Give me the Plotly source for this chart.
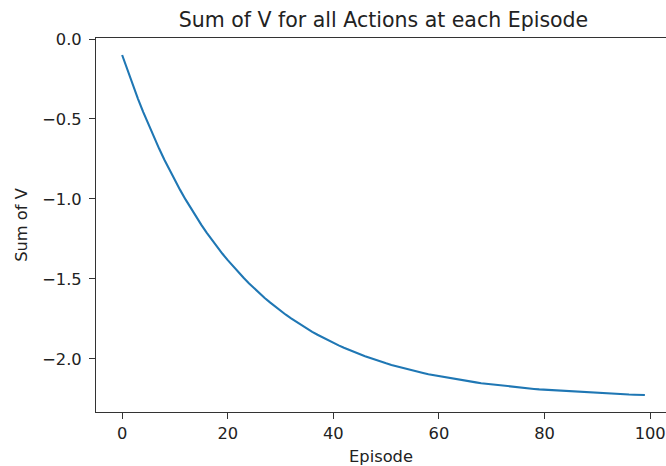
import plotly.graph_objects as go

episodes = list(range(100))
sum_v = [
    -0.100, -0.195, -0.286, -0.374, -0.457, -0.537, -0.613, -0.685, -0.755, -0.821,
    -0.884, -0.945, -1.003, -1.058, -1.111, -1.162, -1.210, -1.256, -1.300, -1.343,
    -1.383, -1.421, -1.458, -1.493, -1.527, -1.559, -1.590, -1.619, -1.647, -1.674,
    -1.699, -1.724, -1.747, -1.769, -1.791, -1.811, -1.831, -1.849, -1.867, -1.884,
    -1.900, -1.916, -1.931, -1.945, -1.958, -1.971, -1.984, -1.995, -2.007, -2.018,
    -2.028, -2.038, -2.047, -2.056, -2.065, -2.073, -2.081, -2.088, -2.096, -2.102,
    -2.109, -2.115, -2.121, -2.127, -2.132, -2.138, -2.143, -2.147, -2.152, -2.156,
    -2.160, -2.164, -2.168, -2.172, -2.175, -2.179, -2.182, -2.185, -2.188, -2.191,
    -2.193, -2.196, -2.198, -2.200, -2.203, -2.205, -2.207, -2.209, -2.210, -2.212,
    -2.214, -2.216, -2.217, -2.219, -2.220, -2.221, -2.223, -2.224, -2.225, -2.226,
]
x_ticks = [0, 20, 40, 60, 80, 100]
y_ticks = [0.0, -0.5, -1.0, -1.5, -2.0]
y_tick_text = ["0.0", "\u22120.5", "\u22121.0", "\u22121.5", "\u22122.0"]

FONT = "DejaVu Sans"
TXT = "#222222"
TICK_SIZE = 16.3

fig = go.Figure()
fig.add_trace(go.Scatter(x=episodes, y=sum_v, mode="lines",
                         line=dict(color="#1f77b4", width=2.1), showlegend=False))

fig.update_layout(
    width=666, height=466,
    margin=dict(l=96, r=0, t=38, b=54),
    paper_bgcolor="white", plot_bgcolor="white",
    font=dict(family=FONT, size=TICK_SIZE, color=TXT),
    title=dict(text="Sum of V for all Actions at each Episode",
               font=dict(family=FONT, size=20.5, color=TXT),
               x=(96 + 671) / 2 / 666, xanchor="center",
               y=1 - 19.5 / 466, yanchor="middle"),
)
fig.update_xaxes(
    range=[-4.95, 103.0], tickvals=x_ticks, ticks="outside", ticklen=6,
    tickwidth=1, tickcolor="#333", showline=True, linecolor="#333",
    linewidth=1.1, mirror=True, showgrid=False, zeroline=False,
    tickfont=dict(family=FONT, size=TICK_SIZE, color=TXT),
    title=dict(text="Episode", font=dict(family=FONT, size=TICK_SIZE, color=TXT), standoff=9),
)
fig.update_yaxes(
    range=[-2.3323, 0.0063], tickvals=y_ticks, ticktext=y_tick_text,
    ticks="outside", ticklen=6, tickwidth=1, tickcolor="#333",
    showline=True, linecolor="#333", linewidth=1.1, mirror=False,
    showgrid=False, zeroline=False, ticklabelstandoff=4,
    tickfont=dict(family=FONT, size=TICK_SIZE, color=TXT),
    title=dict(text="Sum of V", font=dict(family=FONT, size=TICK_SIZE, color=TXT), standoff=10),
)
fig.write_html("out.html")
